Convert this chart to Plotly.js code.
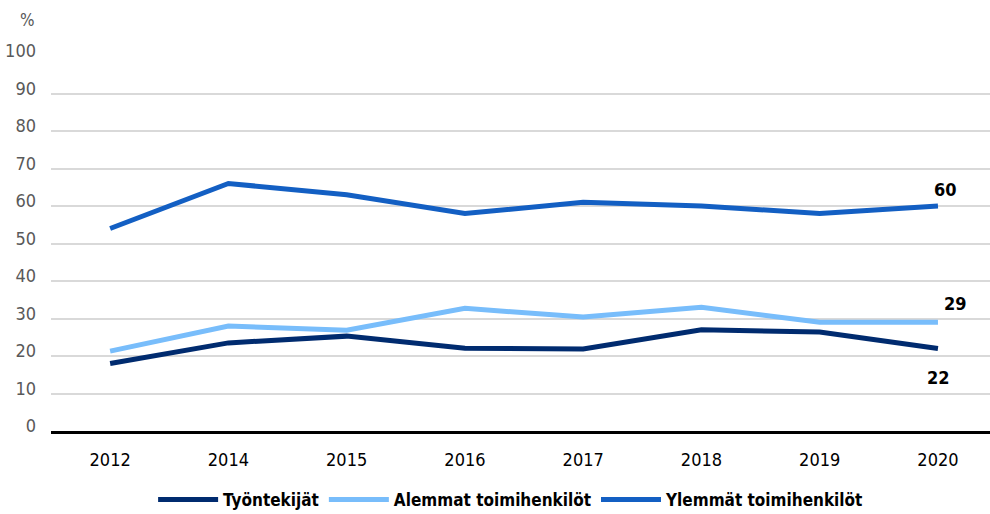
<!DOCTYPE html>
<html>
<head>
<meta charset="utf-8">
<script src="https://cdn.plot.ly/plotly-3.0.1.min.js"></script>
<style>
  html, body { margin: 0; padding: 0; background: #fff; }
  #chart { width: 990px; height: 514px; }
</style>
</head>
<body>
<div id="chart"></div>
<script>
// vuodet ja sarjat
const vuodet = ['2012', '2014', '2015', '2016', '2017', '2018', '2019', '2020'];
const tyontekijat = [18, 23.5, 25.3, 22.1, 21.9, 27, 26.4, 22];
const alemmat = [21.3, 28, 26.9, 32.7, 30.4, 33, 29, 29];
const ylemmat = [54, 66, 63, 58, 61, 60, 58, 60];
const yTicks = [0, 10, 20, 30, 40, 50, 60, 70, 80, 90, 100];

const fontti = '"DejaVu Sans Condensed", "Liberation Sans Narrow", sans-serif';

const sarja = (nimi, arvot, vari) => ({
    x: vuodet, y: arvot, name: nimi, type: 'scatter', mode: 'lines',
    line: { color: vari, width: 5 }, hoverinfo: 'skip'
});

const data = [
    sarja('Työntekijät', tyontekijat, '#002b6f'),
    sarja('Alemmat toimihenkilöt', alemmat, '#78bdfb'),
    sarja('Ylemmät toimihenkilöt', ylemmat, '#135fc3')
];

const viimeinen = vuodet.length - 1;
const loppuLabel = (arvot, dx, dy) => ({
    x: viimeinen, y: arvot[viimeinen], xref: 'x', yref: 'y',
    text: '<b>' + Math.round(arvot[viimeinen]) + '</b>', showarrow: false,
    xshift: dx, yshift: dy,
    font: { family: fontti, size: 18, color: '#000' }
});

const layout = {
    width: 990, height: 514,
    margin: { l: 51, r: 0, t: 56, b: 83, autoexpand: false },
    paper_bgcolor: '#fff', plot_bgcolor: '#fff',
    font: { family: fontti },
    showlegend: true,
    legend: {
        orientation: 'h', x: 0.49, xanchor: 'center', y: -0.184, yanchor: 'middle',
        font: { family: fontti, size: 17, color: '#000', weight: 'bold' },
        itemwidth: 60, tracegroupgap: 0
    },
    xaxis: {
        type: 'category', range: [-0.5, 7.44],
        showgrid: false, zeroline: false,
        showline: true, linecolor: '#000', linewidth: 3,
        ticks: '', ticklabelstandoff: 10,
        tickfont: { family: fontti, size: 18, color: '#000' }
    },
    yaxis: {
        range: [0, 100], tickvals: yTicks,
        showgrid: true, gridcolor: '#d9d9d9', gridwidth: 2,
        zeroline: false, showline: false,
        ticks: '', ticklabelstandoff: 14, ticklabelshift: -5,
        tickfont: { family: fontti, size: 18, color: '#595959' }
    },
    annotations: [
        loppuLabel(ylemmat, 8, 17),
        loppuLabel(alemmat, 18, 19),
        loppuLabel(tyontekijat, 1, -29),
        {
            x: (27 - 51) / 939, y: (431 - 20) / 375, xref: 'paper', yref: 'paper',
            xanchor: 'center', yanchor: 'middle',
            text: '%', showarrow: false,
            font: { family: fontti, size: 17, color: '#595959' }
        }
    ]
};

Plotly.newPlot('chart', data, layout, { displayModeBar: false, staticPlot: true });
</script>
</body>
</html>
